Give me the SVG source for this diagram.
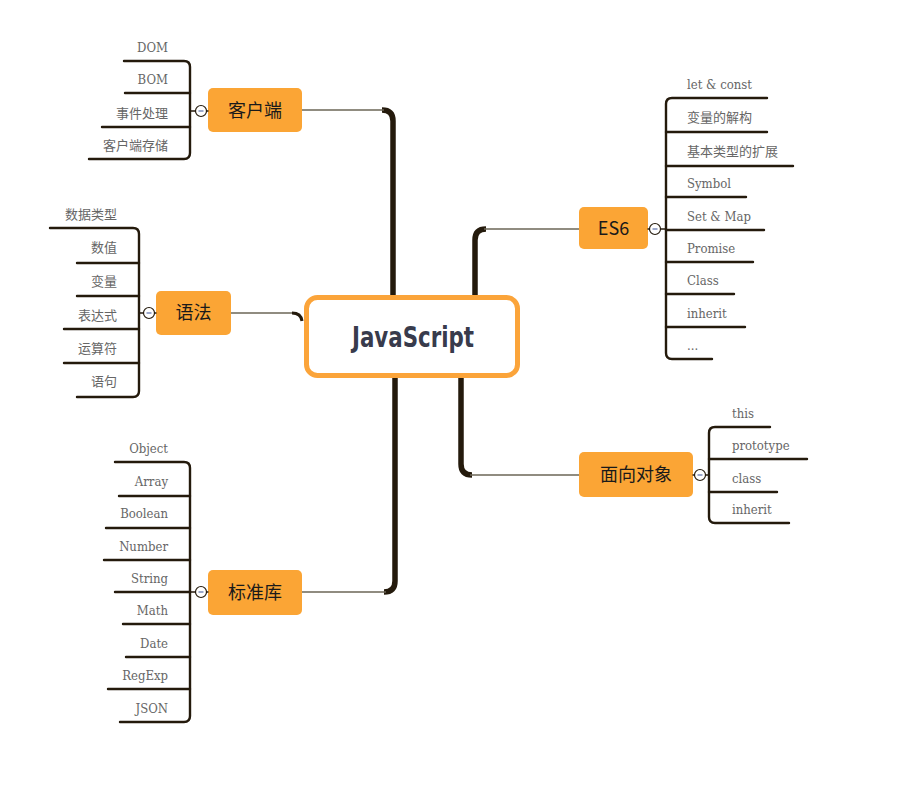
<svg xmlns="http://www.w3.org/2000/svg" width="908" height="791" viewBox="0 0 908 791">
<style>
.br{fill:#fba535;}
.bt{font-family:"Noto Sans CJK SC","Noto Sans",sans-serif;font-size:18px;fill:#1a1a1a;text-anchor:middle;}
.lt{font-family:"DejaVu Serif Condensed","DejaVu Serif","Noto Sans CJK SC",serif;font-size:13px;fill:#666;}
.r{text-anchor:end;}
.ln{fill:none;stroke:#241a0c;stroke-width:2.4;stroke-linecap:round;}
.main{fill:none;stroke:#241a0c;stroke-width:5.5;}
.thin{fill:none;stroke:#6b6656;stroke-width:1.6;}
.cc{fill:#fff;stroke:#241a0c;stroke-width:1.2;}
.mn{stroke:#5a6fa8;stroke-width:1.2;}
</style>
<rect width="908" height="791" fill="#fff"/>
<g id="connectors">
  <path class="main" d="M393,296 L393,121 Q393,110 382,110"/>
  <path class="thin" d="M302,110 L384,110"/>
  <path class="thin" d="M231,313 L293,313"/>
  <path class="main" d="M292,313 Q301,313 302,321" style="stroke-width:3"/>
  <path class="main" d="M395,377 L395,581 Q395,592 384,592"/>
  <path class="thin" d="M302,592 L386,592"/>
  <path class="main" d="M475,296 L475,240 Q475,229 486,229"/>
  <path class="thin" d="M484,229 L580,229"/>
  <path class="main" d="M461,377 L461,464 Q461,475 472,475"/>
  <path class="thin" d="M470,475 L580,475"/>
</g>
<g id="center">
  <rect x="306.5" y="297.5" width="211" height="78" rx="11" fill="#fff" stroke="#fba43a" stroke-width="5"/>
  <text x="352" y="347" textLength="122" lengthAdjust="spacingAndGlyphs" style="font-family:'DejaVu Sans Condensed','Liberation Sans',sans-serif;font-weight:bold;font-size:29px;fill:#383b4c">JavaScript</text>
</g>
<g id="kehuduan">
  <rect class="br" x="208" y="88" width="94" height="44" rx="5"/>
  <text class="bt" x="255" y="117">客户端</text>
  <line class="ln" x1="190" y1="111" x2="208" y2="111" style="stroke-width:1.4"/>
  <circle class="cc" cx="201" cy="111" r="5.5"/>
  <line class="mn" x1="198.5" y1="111" x2="203.5" y2="111"/>
  <path class="ln" d="M124,61 L184,61 Q190,61 190,67 L190,153 Q190,159 184,159 L89,159"/>
  <path class="ln" d="M125,93 L190,93 M102,127 L190,127"/>
  <text class="lt r" x="168" y="52">DOM</text>
  <text class="lt r" x="168" y="84">BOM</text>
  <text class="lt r" x="168" y="118">事件处理</text>
  <text class="lt r" x="168" y="150">客户端存储</text>
</g>
<g id="yufa">
  <rect class="br" x="156" y="291" width="75" height="44" rx="5"/>
  <text class="bt" x="193.5" y="319">语法</text>
  <line class="ln" x1="139" y1="313" x2="156" y2="313" style="stroke-width:1.4"/>
  <circle class="cc" cx="149" cy="313" r="5.5"/>
  <line class="mn" x1="146.5" y1="313" x2="151.5" y2="313"/>
  <path class="ln" d="M50,228 L133,228 Q139,228 139,234 L139,391 Q139,397 133,397 L77,397"/>
  <path class="ln" d="M77,263 L139,263 M77,296 L139,296 M64,329 L139,329 M64,363 L139,363"/>
  <text class="lt r" x="117" y="219">数据类型</text>
  <text class="lt r" x="117" y="252">数值</text>
  <text class="lt r" x="117" y="286">变量</text>
  <text class="lt r" x="117" y="320">表达式</text>
  <text class="lt r" x="117" y="353">运算符</text>
  <text class="lt r" x="117" y="386">语句</text>
</g>
<g id="biaozhunku">
  <rect class="br" x="208" y="570" width="94" height="45" rx="5"/>
  <text class="bt" x="255" y="599">标准库</text>
  <line class="ln" x1="190" y1="592" x2="208" y2="592" style="stroke-width:1.4"/>
  <circle class="cc" cx="201" cy="592" r="5.5"/>
  <line class="mn" x1="198.5" y1="592" x2="203.5" y2="592"/>
  <path class="ln" d="M115,462 L184,462 Q190,462 190,468 L190,716 Q190,722 184,722 L120,722"/>
  <path class="ln" d="M119,496 L190,496 M106,528 L190,528 M104,560 L190,560 M115,592 L190,592 M123,624 L190,624 M126,657 L190,657 M108,689 L190,689"/>
  <text class="lt r" x="168" y="453">Object</text>
  <text class="lt r" x="168" y="486">Array</text>
  <text class="lt r" x="168" y="518">Boolean</text>
  <text class="lt r" x="168" y="551">Number</text>
  <text class="lt r" x="168" y="583">String</text>
  <text class="lt r" x="168" y="615">Math</text>
  <text class="lt r" x="168" y="648">Date</text>
  <text class="lt r" x="168" y="680">RegExp</text>
  <text class="lt r" x="168" y="713">JSON</text>
</g>
<g id="es6">
  <rect class="br" x="579" y="207" width="69" height="42" rx="5"/>
  <text class="bt" x="613.5" y="235">ES6</text>
  <line class="ln" x1="648" y1="229" x2="666" y2="229" style="stroke-width:1.4"/>
  <circle class="cc" cx="655" cy="229" r="5.5"/>
  <line class="mn" x1="652.5" y1="229" x2="657.5" y2="229"/>
  <path class="ln" d="M767,98 L672,98 Q666,98 666,104 L666,353 Q666,359 672,359 L712,359"/>
  <path class="ln" d="M666,132 L767,132 M666,166 L793,166 M666,197 L746,197 M666,230 L764,230 M666,262 L753,262 M666,294 L734,294 M666,327 L745,327"/>
  <text class="lt" x="687" y="89">let &amp; const</text>
  <text class="lt" x="687" y="122">变量的解构</text>
  <text class="lt" x="687" y="156">基本类型的扩展</text>
  <text class="lt" x="687" y="188">Symbol</text>
  <text class="lt" x="687" y="221">Set &amp; Map</text>
  <text class="lt" x="687" y="253">Promise</text>
  <text class="lt" x="687" y="285">Class</text>
  <text class="lt" x="687" y="318">inherit</text>
  <text class="lt" x="687" y="350">...</text>
</g>
<g id="mianxiangduixiang">
  <rect class="br" x="579" y="452" width="114" height="45" rx="5"/>
  <text class="bt" x="636" y="481">面向对象</text>
  <line class="ln" x1="693" y1="475" x2="709" y2="475" style="stroke-width:1.4"/>
  <circle class="cc" cx="700" cy="475" r="5.5"/>
  <line class="mn" x1="697.5" y1="475" x2="702.5" y2="475"/>
  <path class="ln" d="M770,427 L715,427 Q709,427 709,433 L709,517 Q709,523 715,523 L789,523"/>
  <path class="ln" d="M709,459 L807,459 M709,492 L777,492"/>
  <text class="lt" x="732" y="418">this</text>
  <text class="lt" x="732" y="450">prototype</text>
  <text class="lt" x="732" y="483">class</text>
  <text class="lt" x="732" y="514">inherit</text>
</g>
</svg>
